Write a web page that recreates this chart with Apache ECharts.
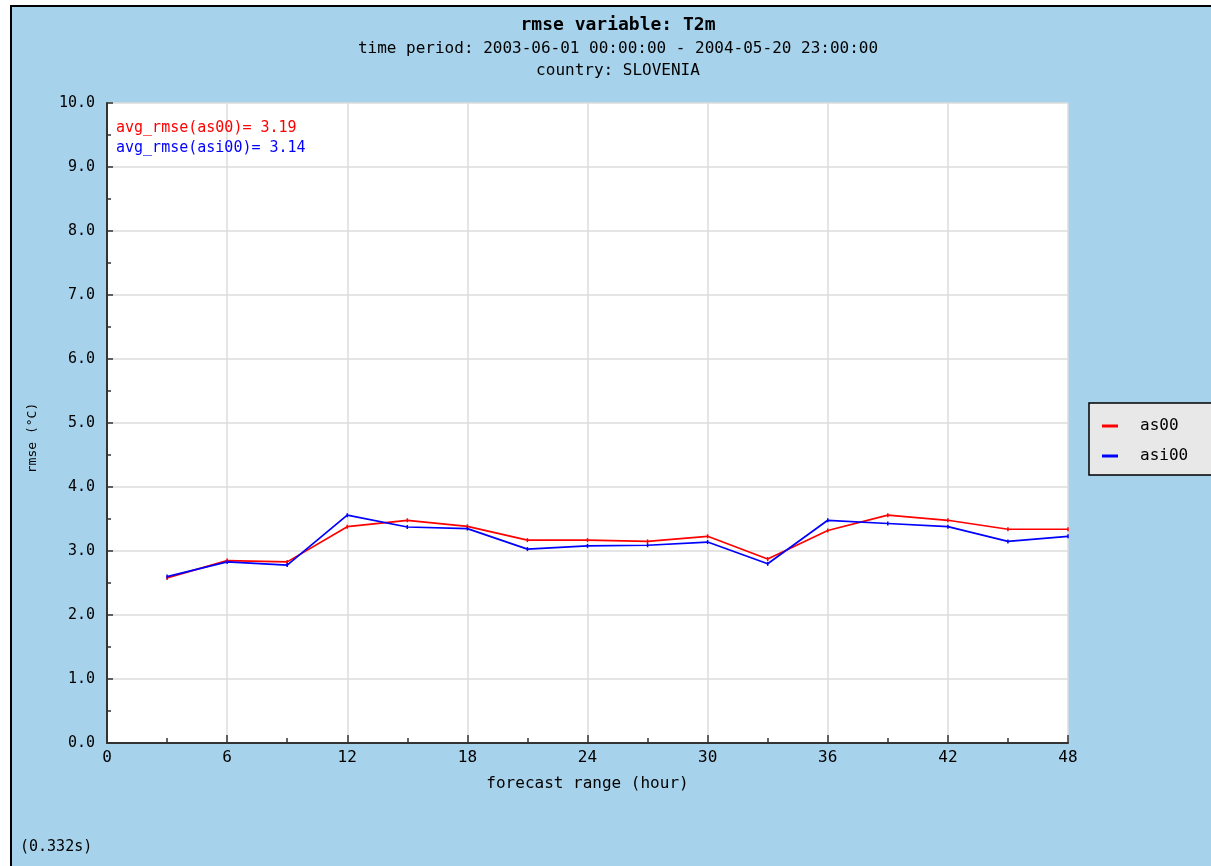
<!DOCTYPE html>
<html><head><meta charset="utf-8">
<script src="https://cdn.jsdelivr.net/npm/echarts@6/dist/echarts.min.js"></script>
<style>html,body{margin:0;padding:0;background:#fff}#c{width:1211px;height:866px}</style>
</head><body><div id="c"></div>
<script>
const hours = [3,6,9,12,15,18,21,24,27,30,33,36,39,42,45,48];
const as00  = [2.58,2.85,2.83,3.38,3.48,3.385,3.17,3.17,3.15,3.23,2.875,3.32,3.56,3.48,3.34,3.34];
const asi00 = [2.60,2.83,2.78,3.56,3.375,3.35,3.03,3.08,3.09,3.14,2.80,3.48,3.43,3.38,3.15,3.23];
const seriesNames = ['as00','asi00'];
const avgTexts = ['avg_rmse(as00)= 3.19','avg_rmse(asi00)= 3.14'];
const titleText = 'rmse variable: T2m';
const subText = 'time period: 2003-06-01 00:00:00 - 2004-05-20 23:00:00\ncountry: SLOVENIA';
const timingText = '(0.332s)';

const FONT = 'DejaVu Sans Mono';
const chart = echarts.init(document.getElementById('c'));
const pair = a => hours.map((h,i)=>[h,a[i]]);
chart.setOption({
  animation:false,
  backgroundColor:'#fff',
  graphic:[
    {type:'rect',z:-10,silent:true,shape:{x:11,y:6,width:1230,height:900},style:{fill:'#a6d2eb',stroke:'#000',lineWidth:2}},
    {type:'text',z:100,left:116,top:121,style:{text:avgTexts[0],fill:'#ff0000',font:'15px '+FONT}},
    {type:'text',z:100,left:116,top:141,style:{text:avgTexts[1],fill:'#0000ff',font:'15px '+FONT}},
    {type:'text',z:100,left:20,top:840,style:{text:timingText,fill:'#000',font:'15px '+FONT}},
    {type:'text',z:100,x:33,y:438,rotation:Math.PI/2,style:{text:'rmse (°C)',fill:'#000',font:'13px '+FONT,align:'center',verticalAlign:'middle'}}
  ],
  title:{text:titleText,subtext:subText,left:613,textAlign:'center',top:11,itemGap:4,
    textStyle:{fontFamily:FONT,fontSize:18,fontWeight:'bold',color:'#000'},
    subtextStyle:{fontFamily:FONT,fontSize:16,color:'#000',lineHeight:22}},
  legend:{orient:'vertical',left:1089,top:403,padding:[15,36,11,13],itemGap:14,
    backgroundColor:'#e8e8e8',borderColor:'#000',borderWidth:1.5,
    itemWidth:16,itemHeight:3,icon:'rect',
    textStyle:{fontFamily:FONT,fontSize:16,color:'#000',padding:[0,0,0,17]},
    data:seriesNames},
  grid:{left:107,top:103,right:143,bottom:123,show:true,backgroundColor:'#fff',borderWidth:0},
  xAxis:{type:'value',min:0,max:48,interval:6,
    name:'forecast range (hour)',nameLocation:'middle',nameGap:33,
    nameTextStyle:{fontFamily:FONT,fontSize:16,color:'#000'},
    axisLine:{show:true,onZero:false,lineStyle:{color:'#333',width:2}},
    axisTick:{show:true,inside:true,length:8,lineStyle:{color:'#333',width:1.5}},
    minorTick:{show:true,splitNumber:2,length:5,lineStyle:{color:'#333',width:1.5}},
    axisLabel:{fontFamily:FONT,fontSize:16,color:'#000',margin:7},
    splitLine:{show:true,lineStyle:{color:'#dddddd',width:1.5}}},
  yAxis:{type:'value',min:0,max:10,interval:1,
    axisLine:{show:true,onZero:false,lineStyle:{color:'#333',width:2}},
    axisTick:{show:true,inside:true,length:6,lineStyle:{color:'#333',width:1.5}},
    minorTick:{show:true,splitNumber:2,length:4,lineStyle:{color:'#333',width:1.5}},
    axisLabel:{fontFamily:FONT,fontSize:15,color:'#000',margin:12,formatter:v=>v.toFixed(1)},
    splitLine:{show:true,lineStyle:{color:'#dddddd',width:1.5}}},
  series:[
    {name:seriesNames[0],type:'line',data:pair(as00),color:'#ff0000',symbol:'rect',symbolSize:[1.5,4],
      lineStyle:{width:1.7,color:'#ff0000'},itemStyle:{color:'#ff0000'}},
    {name:seriesNames[1],type:'line',data:pair(asi00),color:'#0000ff',symbol:'rect',symbolSize:[1.5,4],
      lineStyle:{width:1.7,color:'#0000ff'},itemStyle:{color:'#0000ff'}}
  ]
});
</script></body></html>
